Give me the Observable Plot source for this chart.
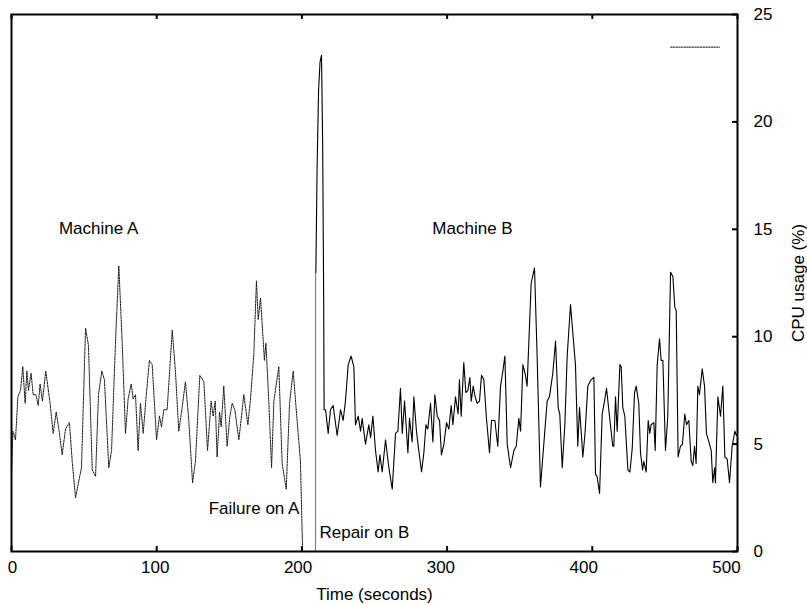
<!DOCTYPE html>
<html><head><meta charset="utf-8">
<script src="https://cdn.jsdelivr.net/npm/d3@7"></script>
<script src="https://cdn.jsdelivr.net/npm/@observablehq/plot@0.6"></script>
<style>body{margin:0;background:#fff;}</style>
</head><body><div id="chart"></div>
<script>
// Machine A CPU usage: [time (s), usage (%)]
const machineA = [[0,3.8],[1,5.6],[2.75,5.2],[4.4,7.2],[6.2,7.5],[7.8,8.6],[9.4,6.9],[10.6,8.4],[11.7,7.5],[13.5,8.3],[14.9,7.3],[16.8,7.3],[18.4,6.8],[19.7,7.8],[21.3,7.0],[23.6,8.4],[26.4,7.0],[28.7,5.5],[30.8,6.5],[32.8,5.6],[34.9,4.5],[37.2,5.7],[39.9,6.0],[41.8,4.2],[44.1,2.5],[46.4,3.3],[48.2,3.9],[51.0,10.4],[53.0,9.6],[55.6,3.8],[57.9,3.5],[59.9,7.3],[62.2,8.4],[64.0,8.0],[67.0,3.9],[68.9,4.7],[71.6,9.7],[73.9,13.3],[76.2,9.8],[78.5,5.5],[80.3,7.1],[82.4,7.8],[83.8,7.1],[85.4,7.3],[87.2,4.7],[88.8,6.9],[90.7,5.5],[92.7,7.2],[95.0,8.9],[96.9,8.7],[99.9,5.2],[101.9,6.3],[103.3,5.8],[104.9,6.6],[107.2,6.6],[110.7,10.3],[112.9,8.4],[115.2,5.6],[117.5,6.7],[119.8,7.9],[122.1,6.1],[124.7,3.2],[126.7,4.2],[129.7,8.2],[132.5,7.9],[135.0,4.7],[137.5,7.0],[138.9,6.3],[140.3,7.0],[141.6,4.4],[143.3,6.5],[144.4,5.8],[146.2,7.7],[148.5,4.9],[150.4,6.3],[152.0,6.9],[153.8,6.6],[156.6,5.2],[160.0,7.3],[162.8,5.9],[164.6,7.1],[166.9,9.2],[168.7,12.6],[169.9,10.8],[171.5,11.8],[174.2,8.9],[175.2,9.7],[177.2,7.0],[179.1,3.9],[180.7,7.0],[184.1,8.6],[186.4,4.1],[189.2,2.9],[191.5,6.9],[194.0,8.4],[196.7,6.1],[199.0,4.2],[200.5,0]];

// Machine B CPU usage: [time (s), usage (%)]
const machineB = [[209.6,13],[210.5,18],[211.5,21.5],[212.5,22.8],[213.5,23.1],[214.3,19],[215.0,11.7],[215.3,6.6],[216.3,6.6],[218.1,5.5],[219.7,6.6],[221.5,6.8],[224.3,5.4],[226.6,6.6],[228.4,6.1],[230.0,7.0],[231.9,8.7],[233.9,9.1],[235.8,8.6],[236.9,5.9],[238.8,6.3],[240.4,5.6],[241.5,6.2],[243.8,5.0],[246.1,5.9],[247.3,5.3],[248.9,6.3],[250.7,4.7],[252.5,3.7],[253.7,4.5],[255.3,3.7],[257.6,5.2],[259.9,3.9],[262.2,2.9],[264.5,5.5],[266.1,5.6],[267.9,7.6],[269.1,5.5],[270.7,7.0],[273.0,4.6],[274.1,6.2],[275.9,5.1],[277.1,7.2],[278.9,5.6],[280.5,4.7],[282.4,3.7],[284.0,4.6],[285.4,5.9],[286.7,5.7],[288.6,6.9],[290.2,5.1],[291.6,7.3],[293.2,6.3],[294.8,6.1],[296.1,4.5],[297.8,5.0],[299.6,6.0],[301.2,5.7],[302.8,6.8],[304.0,5.9],[305.8,7.2],[307.6,6.4],[308.5,8.0],[309.7,6.3],[311.5,8.8],[312.9,7.4],[314.3,7.5],[315.7,8.1],[316.6,7.0],[318.0,7.7],[319.3,7.2],[320.7,6.9],[322.3,7.0],[323.7,8.2],[325.3,8.0],[327.1,6.2],[329.2,4.6],[330.6,6.1],[332.9,6.1],[334.9,4.9],[336.8,7.7],[338.4,8.4],[339.8,9.1],[341.4,5.0],[343.7,3.9],[346.0,4.7],[347.6,4.9],[349.4,6.2],[350.6,5.6],[352.2,8.7],[354.0,8.2],[355.1,7.7],[357.9,12.5],[360.2,13.2],[362.0,9.1],[364.3,3.0],[366.6,5.0],[368.9,7.0],[370.5,7.2],[372.8,8.3],[374.7,9.8],[376.5,6.7],[377.6,6.4],[379.3,3.9],[381.1,5.9],[382.7,9.1],[385.0,11.5],[386.8,10.0],[388.4,8.7],[390.0,4.9],[391.2,6.7],[392.3,5.6],[393.5,4.4],[395.1,5.6],[396.9,7.7],[399.2,8.0],[401.1,8.1],[402.2,3.6],[403.3,3.5],[405.0,2.7],[406.8,6.4],[408.4,7.0],[409.8,7.6],[411.2,6.7],[414.1,4.9],[414.8,4.9],[416.0,7.2],[417.1,5.6],[419.0,8.7],[419.9,8.6],[421.0,6.7],[422.4,6.3],[424.5,3.8],[425.9,3.7],[427.5,4.8],[429.1,7.4],[430.2,7.7],[432.0,6.9],[433.2,4.6],[434.6,3.8],[435.5,4.2],[437.1,3.7],[438.5,6.1],[439.6,5.5],[440.5,5.9],[442.4,6.0],[443.3,4.7],[444.7,8.7],[446.3,9.9],[447.4,8.9],[448.6,8.9],[450.4,4.7],[452.0,6.3],[453.9,13.0],[455.5,12.8],[456.8,11.4],[457.8,11.2],[459.1,4.4],[460.7,4.9],[462.1,5.0],[463.7,6.4],[464.9,5.9],[466.5,6.1],[468.1,4.2],[469.2,4.0],[470.4,4.9],[471.5,4.1],[472.7,7.7],[473.8,7.3],[475.7,8.5],[477.3,7.7],[478.6,5.5],[480.3,5.1],[481.9,4.7],[483.0,3.2],[484.2,3.9],[484.8,3.2],[486.5,7.2],[488.3,6.3],[489.9,7.7],[491.3,4.4],[492.9,4.3],[494.5,3.2],[496.3,4.9],[498.2,5.6],[499.3,5.4],[500,5.45]];

// Repair event on B (vertical marker): time, top usage
const repairTime = [209.4];
const repairTop = 13;

// Annotations
const labelText = ["Machine A", "Machine B", "Failure on A", "Repair on B"];
const labelTime = [60, 317.5, 198.3, 212.1];
const labelUsage = [15.05, 15.05, 2.0, 0.88];
const labelAnchor = ["middle", "middle", "end", "start"];

// Empty-titled key sample (top right)
const keySample = [[453.9, 23.48], [487.6, 23.48]];

// Axes
const xTicks = [0, 100, 200, 300, 400, 500];
const yTicks = [0, 5, 10, 15, 20, 25];
const xDomain = [0, 500];
const yDomain = [0, 25];

const labels = labelText.map((s, i) => ({label: s, t: labelTime[i], v: labelUsage[i], anchor: labelAnchor[i]}));
const tickLenY = 0.23;   // inward tick length in y units (~5px)
const tickLenX = 3.4;    // inward tick length in x units (~5px)

const textMark = (anchor) => Plot.text(labels.filter(d => d.anchor === anchor), {
  x: "t", y: "v", text: "label", textAnchor: anchor, fill: "#000"
});

// x tick labels drift slightly left in the original rendering
const xLabelMarks = xTicks.map(t => Plot.text([t], {
  x: d => d, y: yDomain[0], text: d => String(d), dy: 16, dx: 1 - t * 0.024, lineAnchor: "middle", fill: "#000"
}));

const chart = Plot.plot({
  width: 807, height: 605,
  marginLeft: 11, marginRight: 70, marginTop: 14, marginBottom: 54,
  style: {fontFamily: "'Liberation Sans', Arial, Helvetica, sans-serif", fontSize: "17px", background: "#fff", color: "#000"},
  x: {domain: xDomain},
  y: {domain: yDomain},
  marks: [
    Plot.axisX({ticks: xTicks, tickSize: 0, tickFormat: () => "", label: "Time (seconds)", labelAnchor: "center", labelOffset: 48, labelArrow: "none", fontSize: 17}),
    Plot.axisY({anchor: "right", ticks: yTicks, tickSize: 0, tickPadding: 16, label: "CPU usage (%)", labelAnchor: "center", labelOffset: 66, labelArrow: "none", fontSize: 17}),
    ...xLabelMarks,
    Plot.ruleX(xTicks, {y1: yDomain[0], y2: yDomain[0] + tickLenY, stroke: "#000", strokeWidth: 2}),
    Plot.ruleX(xTicks, {y1: yDomain[1] - tickLenY, y2: yDomain[1], stroke: "#000", strokeWidth: 2}),
    Plot.ruleY(yTicks, {x1: xDomain[1] - tickLenX, x2: xDomain[1], stroke: "#000", strokeWidth: 2}),
    Plot.ruleX(repairTime, {y1: 0, y2: repairTop, stroke: "#808080", strokeWidth: 1.2}),
    Plot.line(machineA, {x: d => d[0], y: d => d[1], stroke: "#1a1a1a", strokeWidth: 1, strokeDasharray: "1.6,1.1"}),
    Plot.line(machineB, {x: d => d[0], y: d => d[1], stroke: "#000", strokeWidth: 1.1}),
    Plot.line(keySample, {x: d => d[0], y: d => d[1], stroke: "#1a1a1a", strokeWidth: 1, strokeDasharray: "1.6,1.1"}),
    textMark("middle"), textMark("start"), textMark("end"),
    Plot.frame({stroke: "#000", strokeWidth: 2})
  ]
});
document.getElementById("chart").appendChild(chart);
</script>
</body></html>
